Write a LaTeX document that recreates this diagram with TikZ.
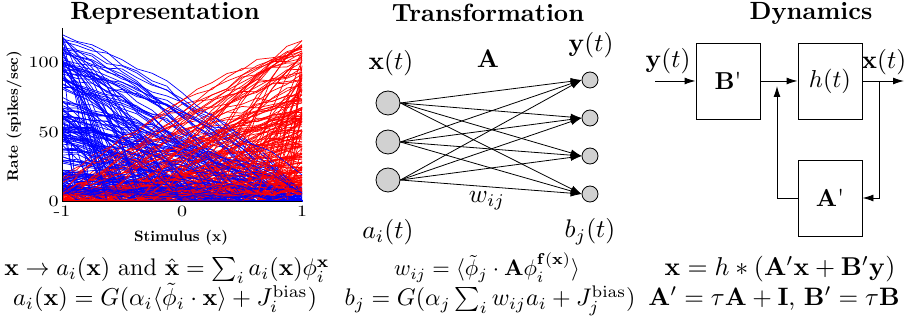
\documentclass[tikz,border=0pt]{standalone}
\usepackage{amsmath}
\usetikzlibrary{arrows.meta}
\begin{document}
\begin{tikzpicture}[x=1pt,y=-1pt,
  ttl/.style={font=\bfseries, inner sep=0pt, transform shape, scale=2.49},
  lab/.style={inner sep=0pt, transform shape, scale=2.55},
  eqn/.style={inner sep=0pt, anchor=base, transform shape},
  tick/.style={inner sep=0.5pt, transform shape, xscale=2.0, yscale=1.58},
  axlab/.style={font=\bfseries, inner sep=0pt, transform shape, scale=1.5},
  bigneuron/.style={circle, draw, fill=black!18, line width=0.8pt, minimum size=24pt, inner sep=0pt},
  smallneuron/.style={circle, draw, fill=black!18, line width=0.8pt, minimum size=16pt, inner sep=0pt},
  conn/.style={line width=0.8pt, -{Latex[length=11pt,width=7pt]}},
  blk/.style={draw, line width=0.9pt, minimum width=64pt, minimum height=76pt, inner sep=0pt},
  blklab/.style={inner sep=0pt, transform shape, scale=2.45},
  flow/.style={line width=0.9pt, -{Latex[length=11pt,width=7pt]}}
]
\useasboundingbox (0,0) rectangle (922,323);

% ---------------- Representation ----------------
\node[ttl] (t1) at (165,13) {Representation};
\begin{scope}
\clip (62,26) rectangle (303,201.5);
\begin{scope}[shift={(182,201)}, x={(120pt,0pt)}, y={(0pt,1.39pt)}]
\pgfmathsetseed{7}
\foreach \i in {1,...,190}{
  \pgfmathsetmacro\Rb{6+114*rnd^1.6}
  \pgfmathsetmacro\cb{-1.4+2.3*rnd}
  \pgfmathsetmacro\db{1-\cb}
  \draw[blue, line width=0.7pt] plot[domain=-1:1, samples=17]
    (\x, {\Rb*max(0,(-\x-\cb)/\db)*(1.6-0.6*max(0,(-\x-\cb)/\db)) + (rnd-0.5)*5*((-\x-\cb)>0)});
  \pgfmathsetmacro\Rr{6+114*rnd^1.6}
  \pgfmathsetmacro\cr{-1.4+2.3*rnd}
  \pgfmathsetmacro\dr{1-\cr}
  \draw[red, line width=0.7pt] plot[domain=-1:1, samples=17]
    (\x, {\Rr*max(0,(\x-\cr)/\dr)*(1.6-0.6*max(0,(\x-\cr)/\dr)) + (rnd-0.5)*5*((\x-\cr)>0)});
}
\end{scope}
\end{scope}
\draw[line width=0.6pt] (62,28) -- (62,201) -- (302,201);
\node[tick, anchor=east] (y0) at (60,201) {0};
\node[tick, anchor=east] (y50) at (60,132) {50};
\node[tick, anchor=east] (y100) at (60,62) {100};
\node[tick, anchor=north] (xm1) at (62,205) {-1};
\node[tick, anchor=north] (x0) at (182,205) {0};
\node[tick, anchor=north] (x1) at (302,205) {1};
\node[axlab, rotate=90] (ylab) at (14,116) {Rate (spikes/sec)};
\node[axlab] (xlab) at (181,238) {Stimulus (x)};

% ---------------- Transformation ----------------
\node[ttl] (t2) at (488,13) {Transformation};
\node[bigneuron] (a1) at (388,103) {};
\node[bigneuron] (a2) at (388,142) {};
\node[bigneuron] (a3) at (388,180) {};
\node[smallneuron] (b1) at (590,80) {};
\node[smallneuron] (b2) at (590,118) {};
\node[smallneuron] (b3) at (590,156) {};
\node[smallneuron] (b4) at (590,194) {};
\foreach \a in {a1,a2,a3}{
  \foreach \b in {b1,b2,b3,b4}{
    \draw[conn] (\a.east) -- (\b.west);
  }
}
\node[lab] (xt) at (391,63) {$\mathbf{x}(t)$};
\node[lab] (Alab) at (488,59) {$\mathbf{A}$};
\node[lab] (yt) at (591,45) {$\mathbf{y}(t)$};
\node[lab] (wij) at (487,201) {$w_{ij}$};
\node[lab] (ait) at (388,232) {$a_i(t)$};
\node[lab] (bjt) at (590,232) {$b_j(t)$};

% ---------------- Dynamics ----------------
\node[ttl] (t3) at (811,13) {Dynamics};
\node[blk] (B) at (728,81) {};
\node[blk] (H) at (830,81) {};
\node[blk] (Ap) at (830,198) {};
\node[blklab] (Blab) at (B.center) {$\mathbf{B}$\textquotesingle};
\node[blklab] (Hlab) at (H.center) {$h(t)$};
\node[blklab] (Aplab) at (Ap.center) {$\mathbf{A}$\textquotesingle};
\coordinate (yin) at (655,81);
\coordinate (xout) at (904,81);
\coordinate (fb1) at (879,81);
\coordinate (fb2) at (777,86);
\draw[flow] (yin) -- (B.west);
\draw[flow] (B.east) -- (H.west);
\draw[flow] (H.east) -- (xout);
\draw[flow] (fb1) |- (Ap.east);
\draw[flow] (Ap.west) -| (fb2);
\node[lab] (ylab2) at (668,61) {$\mathbf{y}(t)$};
\node[lab] (xlab2) at (884,62) {$\mathbf{x}(t)$};

% ---------------- Equations ----------------
\node[eqn, scale=2.4] (e1) at (167,276) {$\mathbf{x}\rightarrow a_i(\mathbf{x})$ and $\hat{\mathbf{x}}=\sum_i a_i(\mathbf{x})\phi_i^{\mathbf{x}}$};
\node[eqn, scale=2.44] (e2) at (165,306) {$a_i(\mathbf{x})=G(\alpha_i\langle\tilde{\phi}_i\cdot\mathbf{x}\rangle+J_i^{\mathrm{bias}})$};
\node[eqn, scale=2.25] (e3) at (487,276) {$w_{ij}=\langle\tilde{\phi}_j\cdot\mathbf{A}\phi_i^{\mathbf{f}(\mathbf{x})}\rangle$};
\node[eqn, scale=2.4] (e4) at (490,306) {$b_j=G(\alpha_j\sum_i w_{ij}a_i+J_j^{\mathrm{bias}})$};
\node[eqn, scale=2.58] (e5) at (780,276) {$\mathbf{x}=h*(\mathbf{A}'\mathbf{x}+\mathbf{B}'\mathbf{y})$};
\node[eqn, scale=2.52] (e6) at (774,306) {$\mathbf{A}'=\tau\mathbf{A}+\mathbf{I}$, $\mathbf{B}'=\tau\mathbf{B}$};
\end{tikzpicture}
\end{document}
